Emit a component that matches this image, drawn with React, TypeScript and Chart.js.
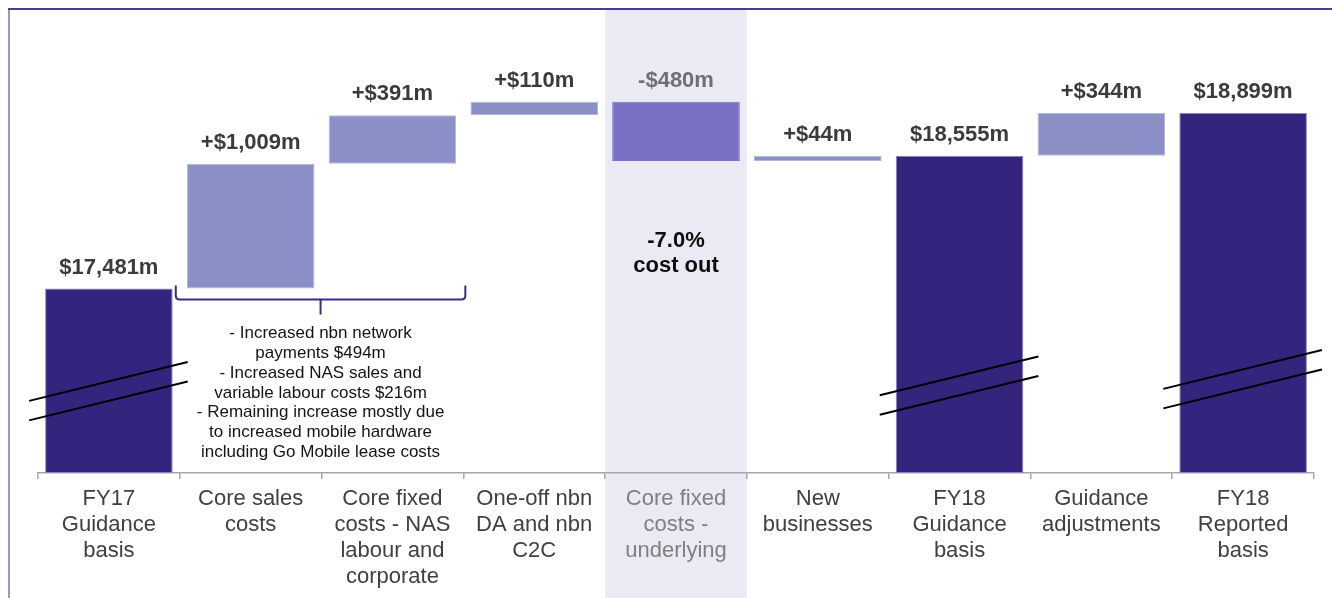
import React, { useEffect, useRef } from "react";
import { Chart, registerables } from "chart.js";

Chart.register(...registerables);

// ---- data ----
const categories: string[][] = [
  ["FY17", "Guidance", "basis"],
  ["Core sales", "costs"],
  ["Core fixed", "costs - NAS", "labour and", "corporate"],
  ["One-off nbn", "DA and nbn", "C2C"],
  ["Core fixed", "costs -", "underlying"],
  ["New", "businesses"],
  ["FY18", "Guidance", "basis"],
  ["Guidance", "adjustments"],
  ["FY18", "Reported", "basis"],
];
const amounts = [17481, 1009, 391, 110, -480, 44, 18555, 344, 18899];
const isTotal = [true, false, false, false, false, false, true, false, true];
const valueLabels = [
  "$17,481m",
  "+$1,009m",
  "+$391m",
  "+$110m",
  "-$480m",
  "+$44m",
  "$18,555m",
  "+$344m",
  "$18,899m",
];
const highlightIndex = 4;
const axisMin = 15990;
const axisMax = 19700;
// broken-axis marks (value at centre of first slash) for total bars
const breakMarks: (number | null)[] = [16731, null, null, null, null, null, 16776, null, 16828];
const noteLines = [
  "- Increased nbn network",
  "payments $494m",
  "- Increased NAS sales and",
  "variable labour costs $216m",
  "- Remaining increase mostly due",
  "to increased mobile hardware",
  "including Go Mobile lease costs",
];
const costOutLines = ["-7.0%", "cost out"];

// build floating ranges
const ranges: [number, number][] = [];
{
  let running = 0;
  amounts.forEach((v, i) => {
    if (isTotal[i]) {
      ranges.push([axisMin, v]);
      running = v;
    } else {
      ranges.push([running, running + v]);
      running += v;
    }
  });
}

const DARK = "#35247d";
const LIGHT = "#8a90c6";
const MID = "#7871c6";
const FONT = "'Liberation Sans', Arial, Helvetica, sans-serif";

const barColors = amounts.map((v, i) => (isTotal[i] ? DARK : i === highlightIndex ? MID : LIGHT));
const barBorders = amounts.map((v, i) => (isTotal[i] ? "#8d86c2" : i === highlightIndex ? MID : "#b3b7dc"));

const decorPlugin = {
  id: "decor",
  beforeDraw(chart: any) {
    const { ctx, scales } = chart;
    const x = scales.x;
    const catW = (x.right - x.left) / categories.length;
    ctx.save();
    // highlighted column
    const cx = x.getPixelForValue(highlightIndex);
    ctx.fillStyle = "#eaeaf4";
    ctx.fillRect(cx - catW / 2, 10, catW, chart.height - 10);
    // frame lines
    ctx.fillStyle = "#9d94c9";
    ctx.fillRect(8, 8, 2, chart.height - 8);
    ctx.fillStyle = "#4a3e8c";
    ctx.fillRect(8, 8, chart.width - 8, 2);
    ctx.restore();
  },
  afterDatasetsDraw(chart: any) {
    const { ctx, scales } = chart;
    const x = scales.x;
    const y = scales.y;
    const meta = chart.getDatasetMeta(0);
    const catW = (x.right - x.left) / categories.length;
    ctx.save();
    // value labels
    ctx.font = `bold 22px ${FONT}`;
    ctx.textAlign = "center";
    ctx.textBaseline = "middle";
    meta.data.forEach((bar: any, i: number) => {
      const top = Math.min(bar.y, bar.base);
      ctx.fillStyle = i === highlightIndex ? "#6e6e78" : "#3b3b3b";
      ctx.fillText(valueLabels[i], bar.x, top - 21);
    });
    // break marks
    ctx.strokeStyle = "#000";
    ctx.lineWidth = 2;
    meta.data.forEach((bar: any, i: number) => {
      const v = breakMarks[i];
      if (v == null) return;
      const half = bar.width / 2;
      const x0 = bar.x - half - 16;
      const x1 = bar.x + half + 15;
      const yc = y.getPixelForValue(v);
      const slope = -39 / 159;
      for (const off of [0, 19.5]) {
        ctx.beginPath();
        ctx.moveTo(x0, yc + off - slope * (bar.x - x0));
        ctx.lineTo(x1, yc + off + slope * (x1 - bar.x));
        ctx.stroke();
      }
    });
    // brace under categories 1-2
    const bl = x.getPixelForValue(1) - catW / 2 - 4;
    const br = x.getPixelForValue(2) + catW / 2 + 2;
    const bTop = y.getPixelForValue(ranges[1][0]) - 3;
    const bMid = bTop + 14;
    const bStem = bMid + 15;
    const bc = (bl + br) / 2;
    const r = 4;
    ctx.strokeStyle = "#3b2b88";
    ctx.lineWidth = 2;
    ctx.beginPath();
    ctx.moveTo(bl, bTop);
    ctx.lineTo(bl, bMid - r);
    ctx.quadraticCurveTo(bl, bMid, bl + r, bMid);
    ctx.lineTo(br - r, bMid);
    ctx.quadraticCurveTo(br, bMid, br, bMid - r);
    ctx.lineTo(br, bTop);
    ctx.stroke();
    ctx.beginPath();
    ctx.moveTo(bc, bMid);
    ctx.lineTo(bc, bStem);
    ctx.stroke();
    // note text
    ctx.fillStyle = "#141414";
    ctx.font = `17px ${FONT}`;
    noteLines.forEach((t, k) => {
      ctx.fillText(t, bc, bStem + 19 + k * 19.8);
    });
    // cost out text
    const hx = x.getPixelForValue(highlightIndex);
    const hb = y.getPixelForValue(Math.min(...ranges[highlightIndex]));
    ctx.fillStyle = "#0d0d0d";
    ctx.font = `bold 22px ${FONT}`;
    costOutLines.forEach((t, k) => {
      ctx.fillText(t, hx, hb + 80 + k * 25);
    });
    ctx.restore();
  },
};

export default function App() {
  const ref = useRef<HTMLCanvasElement | null>(null);
  useEffect(() => {
    if (!ref.current) return;
    const chart = new Chart(ref.current, {
      type: "bar",
      data: {
        labels: categories,
        datasets: [
          {
            data: ranges as any,
            backgroundColor: barColors,
            borderColor: barBorders,
            borderWidth: 1,
            borderSkipped: false,
            barPercentage: 0.9,
            categoryPercentage: 1.0,
          },
        ],
      },
      options: {
        animation: false,
        responsive: false,
        maintainAspectRatio: false,
        layout: { padding: { top: 14, left: 38, right: 18, bottom: 1 } },
        plugins: {
          legend: { display: false },
          tooltip: { enabled: false },
          title: { display: false },
        },
        scales: {
          x: {
            offset: true,
            grid: {
              display: true,
              drawOnChartArea: false,
              drawTicks: true,
              tickLength: 6,
              color: "#a6a6a6",
              offset: true,
              lineWidth: 1.5,
            },
            border: { display: true, color: "#a6a6a6", width: 1.5 },
            ticks: {
              autoSkip: false,
              maxRotation: 0,
              minRotation: 0,
              padding: 7,
              font: { family: FONT, size: 22, lineHeight: 26 / 22 },
              color: (c: any) => (c.index === highlightIndex ? "#7f7f7f" : "#404040"),
            },
          },
          y: {
            display: false,
            min: axisMin,
            max: axisMax,
          },
        },
      },
      plugins: [decorPlugin],
    });
    return () => chart.destroy();
  }, []);
  return (
    <div style={{ position: "fixed", left: 0, top: 0, width: 1332, height: 598, background: "#fff" }}>
      <canvas ref={ref} width={1332} height={598} style={{ display: "block" }} />
    </div>
  );
}
